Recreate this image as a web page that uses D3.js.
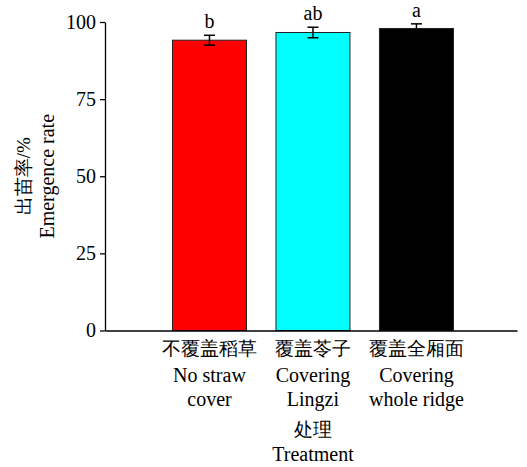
<!DOCTYPE html>
<html><head><meta charset="utf-8"><script src="https://cdn.jsdelivr.net/npm/d3@7"></script>
<style>
@font-face { font-family: "ChartSerif"; src: local("Liberation Serif"), local("LiberationSerif"), local("LiberationSerif-Regular"), local("Tinos"), local("Tinos-Regular"), local("FreeSerif"), local("DejaVu Serif"); }
</style>
</head>
<body style="margin:0">
<svg id="s" width="527" height="467"></svg>
<script>
const categories = ["nocover", "lingzi", "whole"];
const labelsZh = ["不覆盖稻草", "覆盖苓子", "覆盖全厢面"];
const labelsEn = [["No straw", "cover"], ["Covering", "Lingzi"], ["Covering", "whole ridge"]];
const values = [94.1, 96.6, 97.9];
const errors = [1.6, 1.7, 1.5];
const letters = ["b", "ab", "a"];
const colors = ["#ff0000", "#00ffff", "#000000"];
const yTicks = [0, 25, 50, 75, 100];

const FONT = '"Tinos"';

const svg = d3.select("#s");
const mLeft = 105, mRight = 517, mTop = 22, mBottom = 330.5;

const y = d3.scaleLinear().domain([0, 100]).range([mBottom, mTop]);
const x = d3.scaleBand().domain(categories).range([mLeft, mRight])
  .paddingInner(0.285).paddingOuter(0.633).align(0.515);

function label(sel, size) {
  return sel.style("font-family", FONT).style("font-size", size + "px");
}

svg.append("g").selectAll("rect").data(categories).join("rect")
  .attr("x", d => x(d))
  .attr("y", (d, i) => y(values[i]))
  .attr("width", x.bandwidth())
  .attr("height", (d, i) => y(0) - y(values[i]))
  .attr("fill", (d, i) => colors[i])
  .attr("stroke", "#222")
  .attr("stroke-width", 1);

const eb = svg.append("g").attr("stroke", "#000").attr("stroke-width", 1.5);
categories.forEach((c, i) => {
  const cx = x(c) + x.bandwidth() / 2;
  const hi = y(values[i] + errors[i]), lo = y(values[i] - errors[i]);
  eb.append("line").attr("x1", cx).attr("x2", cx).attr("y1", hi).attr("y2", lo);
  eb.append("line").attr("x1", cx - 5.5).attr("x2", cx + 5.5).attr("y1", hi).attr("y2", hi);
  eb.append("line").attr("x1", cx - 5.5).attr("x2", cx + 5.5).attr("y1", lo).attr("y2", lo);
  label(svg.append("text").attr("x", cx).attr("y", hi - 7).attr("text-anchor", "middle"), 20).text(letters[i]);
});

const ya = svg.append("g").attr("transform", `translate(${mLeft},0)`)
  .call(d3.axisLeft(y).tickValues(yTicks).tickSize(5).tickSizeOuter(0).tickPadding(4));
ya.attr("font-family", null).attr("font-size", null);
label(ya.selectAll("text"), 20);
ya.selectAll("path, line").attr("stroke", "#000").attr("stroke-width", 1.3);

const xa = svg.append("g").attr("transform", `translate(0,${mBottom})`)
  .call(d3.axisBottom(x).tickSize(0).tickSizeOuter(0).tickFormat(""));
xa.selectAll("path").attr("stroke", "#000").attr("stroke-width", 1.3);

categories.forEach((c, i) => {
  const cx = x(c) + x.bandwidth() / 2;
  label(svg.append("text").attr("x", cx).attr("y", 355).attr("text-anchor", "middle"), 19).text(labelsZh[i]);
  labelsEn[i].forEach((t, j) => {
    label(svg.append("text").attr("x", cx).attr("y", 382 + j * 24).attr("text-anchor", "middle"), 20).text(t);
  });
});

const xMid = x(categories[1]) + x.bandwidth() / 2;
label(svg.append("text").attr("x", xMid).attr("y", 436).attr("text-anchor", "middle"), 19).text("处理");
label(svg.append("text").attr("x", xMid).attr("y", 461).attr("text-anchor", "middle"), 20).text("Treatment");

const yMid = y(50);
label(svg.append("text").attr("transform", `translate(30,${yMid}) rotate(-90)`).attr("text-anchor", "middle"), 19).text("出苗率/%");
label(svg.append("text").attr("transform", `translate(54,${yMid}) rotate(-90)`).attr("text-anchor", "middle"), 20).text("Emergence rate");
</script>
</body>
</html>
